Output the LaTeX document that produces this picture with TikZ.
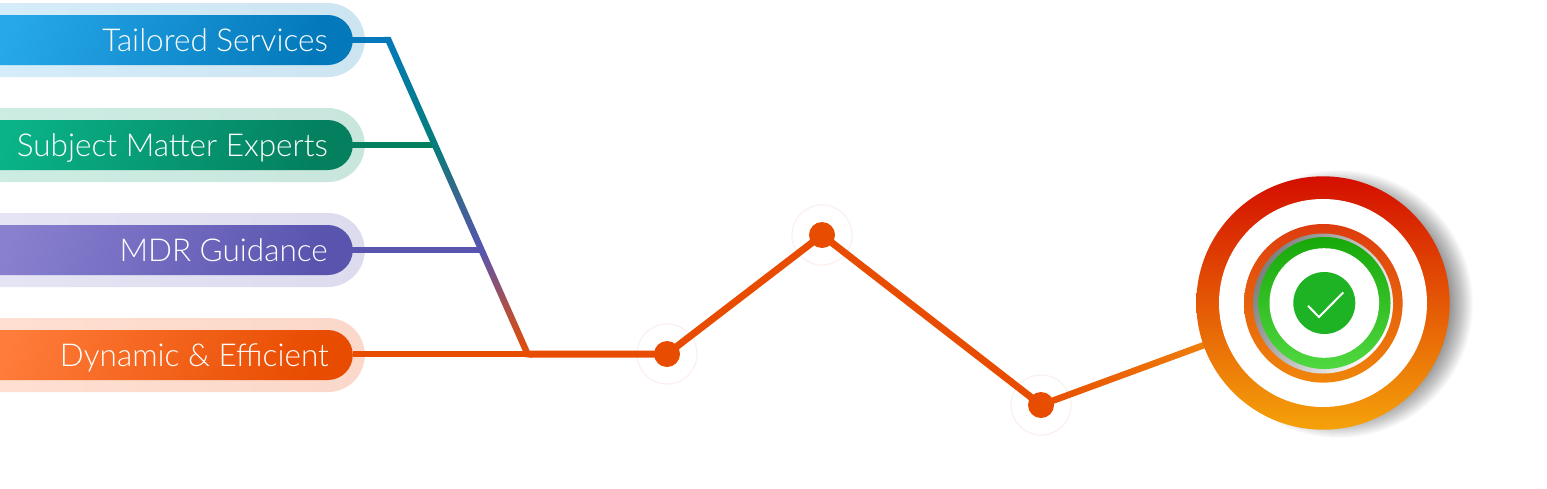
\documentclass[tikz,border=0pt]{standalone}
\usepackage{fontspec}
\setmainfont{Lato}[UprightFont=* Light]
\usetikzlibrary{calc}
\definecolor{blueA}{HTML}{27A8E9}\definecolor{blueB}{HTML}{0379BB}
\definecolor{greenA}{HTML}{0AB388}\definecolor{greenB}{HTML}{04805F}
\definecolor{purpA}{HTML}{8980CF}\definecolor{purpB}{HTML}{5955AF}
\definecolor{oranA}{HTML}{FF7C3A}\definecolor{oranB}{HTML}{E84C00}
\definecolor{haloA}{HTML}{D6EEFB}\definecolor{haloAb}{HTML}{CDE4F1}
\definecolor{haloB}{HTML}{CDEDE3}\definecolor{haloBb}{HTML}{C9E6DD}
\definecolor{haloC}{HTML}{E6E5F5}\definecolor{haloCb}{HTML}{DDDCEF}
\definecolor{haloD}{HTML}{FFE0D2}\definecolor{haloDb}{HTML}{FBD8C9}
\definecolor{ringfaint}{HTML}{FBF0EE}
\definecolor{lineEnd}{HTML}{EE800B}
\pgfdeclareverticalshading{trunkshade}{100bp}{
 color(0bp)=(oranB);
 color(25bp)=(oranB);
 color(31bp)=(oranB!70!purpB);
 color(41.5bp)=(purpB);
 color(51bp)=(purpB!55!greenB);
 color(58.5bp)=(greenB!70!blueB);
 color(75bp)=(blueB);
 color(100bp)=(blueB)}
\tikzset{
 pill/.style={rectangle,rounded corners=25pt,minimum width=383pt,minimum height=50pt,inner sep=0pt,anchor=east},
 halo/.style={rectangle,rounded corners=37pt,minimum width=410pt,minimum height=74pt,inner sep=0pt,anchor=east},
 lab/.style={anchor=base east,text=white,font=\fontsize{31.5}{34}\selectfont,inner sep=0pt},
 conn/.style={line width=6.5pt},
 dot/.style={circle,fill=oranB,minimum size=26pt,inner sep=0pt},
 faint/.style={circle,draw=ringfaint,line width=1.2pt,minimum size=60pt,inner sep=0pt},
 disc/.style={circle,inner sep=0pt}
}
\begin{document}
\begin{tikzpicture}[x=1pt,y=-1pt]
\useasboundingbox (0,0) rectangle (1547,488);
\clip (0,0) rectangle (1547,488);
\fill[white] (0,0) rectangle (1547,488);
% halos
\node[halo,left color=haloA,right color=haloAb] (h1) at (365,40) {};
\node[halo,left color=haloB,right color=haloBb] (h2) at (365,145) {};
\node[halo,left color=haloC,right color=haloCb] (h3) at (365,250) {};
\node[halo,left color=haloD,right color=haloDb] (h4) at (365,355) {};
% coordinates
\coordinate (j1) at (387,40);
\coordinate (j2) at (434,145);
\coordinate (j3) at (482,250);
\coordinate (j4) at (529,354);
% pills
\draw[conn,draw=blueB] (352,40) -- (j1);
\draw[conn,draw=greenB] (352,145) -- (j2);
\draw[conn,draw=purpB] (352,250) -- (j3);
\node[pill,left color=blueA,right color=blueB,shading angle=70] (p1) at (353,40) {};
\node[pill,left color=greenA,right color=greenB,shading angle=70] (p2) at (353,145) {};
\node[pill,left color=purpA,right color=purpB,shading angle=70] (p3) at (353,250) {};
\node[pill,left color=oranA,right color=oranB,shading angle=70] (p4) at (353,355) {};
\node[lab] (t1) at (328,51) {Tailored Services};
\node[lab] (t2) at (328,156) {Subject Matter Experts};
\node[lab] (t3) at (328,261) {MDR Guidance};
\node[lab] (t4) at (329,366) {Dynamic \& Efficient};
% trunk
\path[shading=trunkshade] ($(j1)+(-3.5,-3.25)$) -- ($(j1)+(3.5,-3.25)$) -- ($(j4)+(3.5,3.25)$) -- ($(j4)+(-3.5,3.25)$) -- cycle;
% route
\node[faint] (f1) at (667,354) {};
\node[faint] (f2) at (822,235) {};
\node[faint] (f3) at (1041,405) {};
\draw[conn,draw=oranB] (p4.east |- j4) -- (j4);
\node[dot] (n1) at (667,354) {};
\node[dot] (n2) at (822,235) {};
\node[dot] (n3) at (1041,405) {};
\draw[line width=7pt,draw=oranB,line join=miter] (j4) -- (n1.center) -- (n2.center) -- (n3.center);
% shadow
\foreach \r in {134,133,...,105}
  \fill[black,opacity=.02] (1339,304) circle[radius=\r];
% last segment
\coordinate (c) at (1323,303);
\coordinate (e) at (1207,344);
\path[left color=oranB,right color=lineEnd] ($(n3.center)+(1.13,3.05)$) -- ($(n3.center)+(-1.13,-3.05)$) -- ($(e)+(-1.13,-3.05)$) -- ($(e)+(1.13,3.05)$) -- cycle;
% target
\node[disc,minimum size=253.4pt,top color={rgb,255:red,212;green,14;blue,0},bottom color={rgb,255:red,245;green,162;blue,10}] (o2) at (c) {};
\node[disc,fill=white,minimum size=208pt] (w1) at (c) {};
\node[disc,minimum size=158.6pt,top color={rgb,255:red,222;green,60;blue,14},bottom color={rgb,255:red,240;green,134;blue,10}] (r2) at (1323.3,303.3) {};
\node[disc,minimum size=140pt,left color=black!50,right color=white,shading angle=60] (s2) at (1323,303.5) {};
\node[disc,minimum size=132pt,top color={rgb,255:red,23;green,168;blue,10},bottom color={rgb,255:red,80;green,216;blue,64}] (g1) at (1324.5,303) {};
\node[disc,fill=white,minimum size=109.6pt] (w2) at (1324.3,303) {};
\node[disc,fill={rgb,255:red,30;green,179;blue,37},minimum size=62pt] (d) at (1324.3,303) {};
\coordinate (k1) at (1308,305.8);
\coordinate (k2) at (1319,317);
\coordinate (k3) at (1343.3,292.4);
\draw[white,line width=2pt] (k1) -- (k2) -- (k3);
\end{tikzpicture}
\end{document}
